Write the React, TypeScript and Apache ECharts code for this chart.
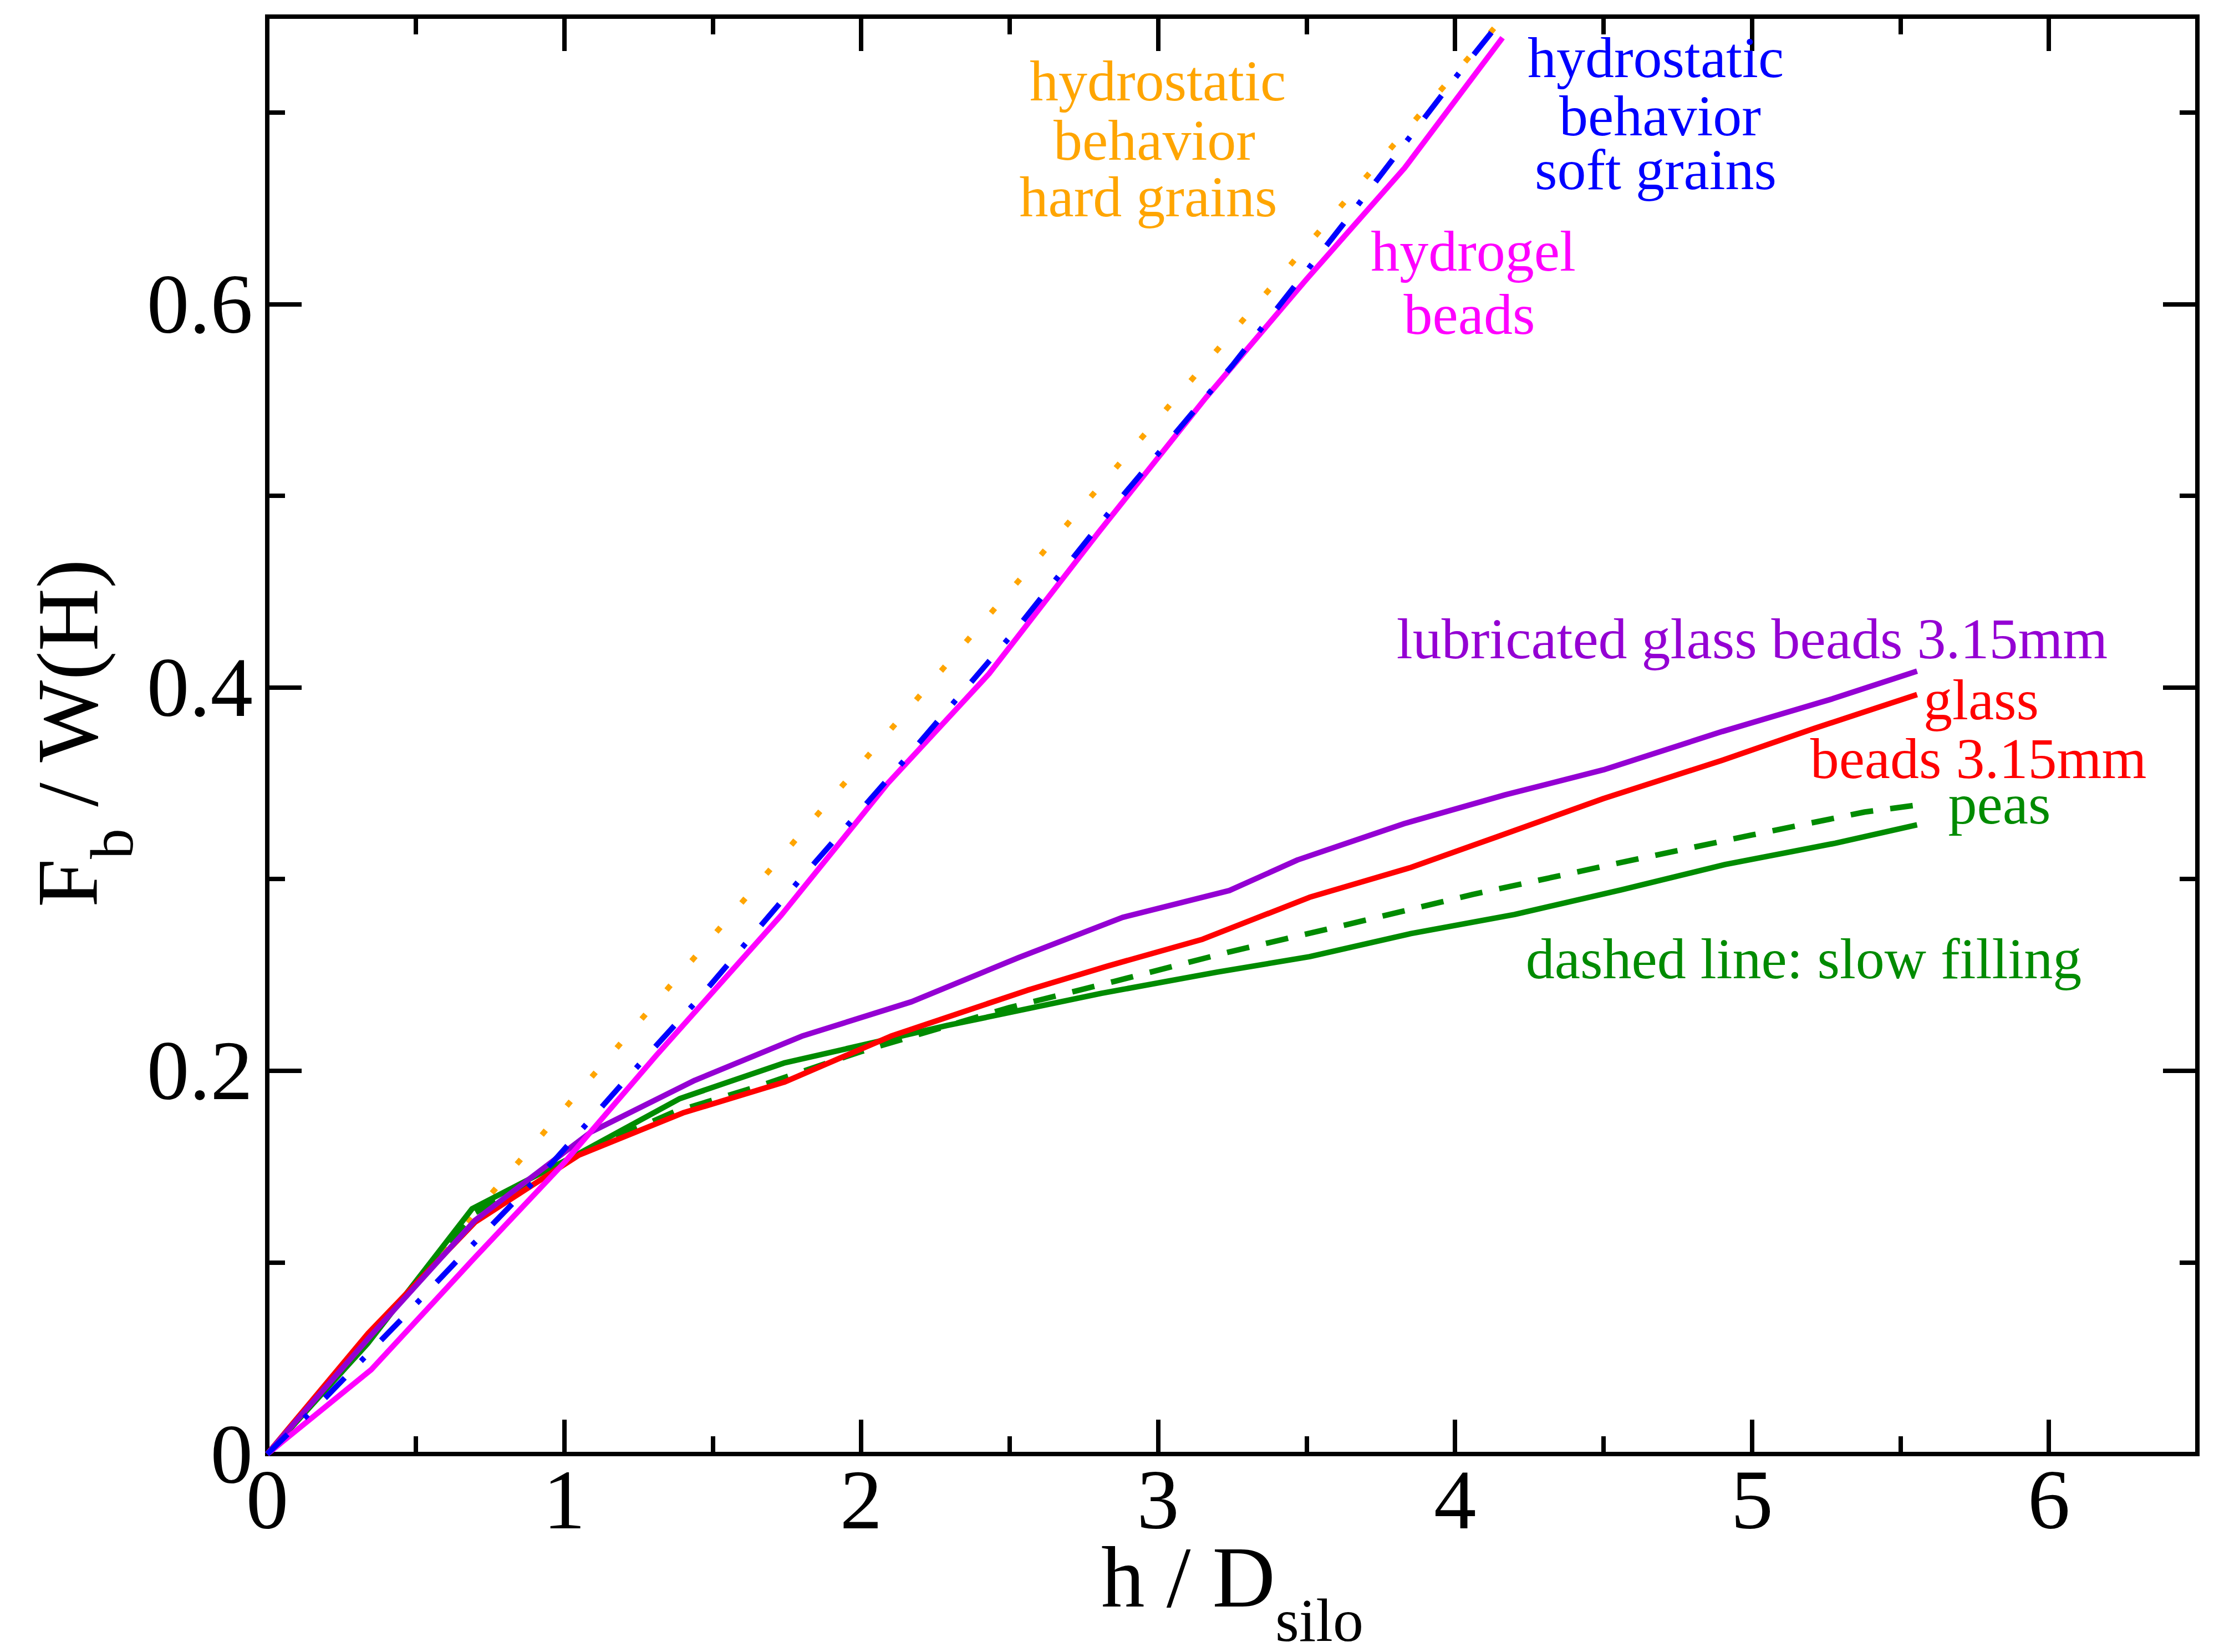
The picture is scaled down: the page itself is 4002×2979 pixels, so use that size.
import React, { useEffect, useRef } from "react";
import * as echarts from "echarts";

// ---------- data ----------
const hardX = [0, 4.165];
const hardY = [0, 0.75];

const softX = [0, 0.2, 0.45, 0.64, 0.96, 1.28, 1.45, 1.79, 2.14, 2.51, 2.87, 3.25, 3.62, 3.99, 4.16];
const softY = [0, 0.03, 0.07, 0.101, 0.152, 0.208, 0.237, 0.299, 0.361, 0.428, 0.498, 0.568, 0.641, 0.716, 0.749];

const gelX = [0, 0.35, 0.69, 1.0, 1.31, 1.73, 2.09, 2.43, 2.8, 3.16, 3.5, 3.83, 4.16];
const gelY = [0, 0.044, 0.101, 0.152, 0.208, 0.281, 0.35, 0.407, 0.481, 0.551, 0.613, 0.671, 0.739];

const lubX = [0, 0.35, 0.7, 1.09, 1.44, 1.8, 2.17, 2.53, 2.88, 3.24, 3.47, 3.83, 4.17, 4.5, 4.9, 5.27, 5.556];
const lubY = [0, 0.062, 0.122, 0.168, 0.195, 0.218, 0.236, 0.259, 0.28, 0.294, 0.31, 0.329, 0.344, 0.357, 0.377, 0.394, 0.4085];

const glassX = [0, 0.34, 0.7, 1.05, 1.4, 1.74, 2.1, 2.56, 2.83, 3.15, 3.51, 3.85, 4.14, 4.5, 4.9, 5.21, 5.556];
const glassY = [0, 0.063, 0.121, 0.156, 0.178, 0.194, 0.218, 0.242, 0.2546, 0.2686, 0.2905, 0.306, 0.322, 0.342, 0.362, 0.3786, 0.3963];

const peasX = [0, 0.34, 0.69, 1.04, 1.39, 1.74, 2.05, 2.29, 2.81, 3.2, 3.51, 3.85, 4.2, 4.56, 4.91, 5.28, 5.556];
const peasY = [0, 0.058, 0.128, 0.156, 0.1855, 0.204, 0.215, 0.2236, 0.2404, 0.2515, 0.2595, 0.2715, 0.2815, 0.2944, 0.3076, 0.3187, 0.3283];

const slowX = [0, 0.34, 0.69, 1.04, 1.37, 1.67, 2.0, 2.5, 2.85, 3.24, 3.63, 4.06, 4.6, 5.0, 5.38, 5.556];
const slowY = [0, 0.059, 0.125, 0.156, 0.1785, 0.1927, 0.21, 0.233, 0.2465, 0.262, 0.276, 0.292, 0.31, 0.323, 0.335, 0.3386];

const xTickLabels = ["0", "1", "2", "3", "4", "5", "6"];
const yTickLabels = ["0", "0.2", "0.4", "0.6"];

// ---------- styling ----------
const FONT = "Liberation Serif";
const ORANGE = "#FFA500";
const BLUE = "#0000FF";
const MAGENTA = "#FF00FF";
const PURPLE = "#9400D3";
const RED = "#FF0000";
const GREEN = "#008B00";

const W = 4002;
const H = 2979;
const G_LEFT = 482;
const G_TOP = 30;
const G_RIGHT = 3963;
const G_BOTTOM = 2622;

const TICK_FS = 153;
const TITLE_FS = 157;
const SUB_FS = 110;
const ANN_FS = 104;
const CENTRAL = 0.3375; // central baseline offset above alphabetic (em)
const LINE_W = 10;

const zip = (xs: number[], ys: number[]) => xs.map((x, i) => [x, ys[i]]);

function txt(text: string, x: number, y: number, color: string, fs: number, align = "center", rotation = 0) {
  return {
    type: "text",
    x,
    y,
    rotation,
    silent: true,
    z: 100,
    style: {
      text,
      fill: color,
      fontSize: fs,
      fontFamily: FONT,
      align,
      textAlign: align,
      verticalAlign: "middle",
      textVerticalAlign: "middle",
    },
  };
}

// annotation: position given by text centre x and alphabetic baseline y
function ann(text: string, cx: number, base: number, color: string) {
  return txt(text, cx, base - CENTRAL * ANN_FS, color, ANN_FS, "center");
}

function lineSeries(name: string, xs: number[], ys: number[], color: string, type: any) {
  return {
    name,
    type: "line",
    data: zip(xs, ys),
    showSymbol: false,
    symbol: "none",
    silent: true,
    xAxisIndex: 0,
    yAxisIndex: 0,
    lineStyle: { color, width: LINE_W, type, cap: "butt", join: "round" },
    emphasis: { disabled: true },
  };
}

export default function App() {
  const ref = useRef<HTMLDivElement>(null);

  useEffect(() => {
    if (!ref.current) return;
    const chart = echarts.init(ref.current, null, { renderer: "svg" });

    const tickStyle = { color: "#000", width: 8 };
    const frameLine = { show: true, onZero: false, lineStyle: { color: "#000", width: 8, cap: "square" } };
    const noLine = { show: false, onZero: false };
    const xBase = {
      type: "value",
      min: 0,
      max: 6.5,
      gridIndex: 0,
      splitLine: { show: false },
      axisLabel: { show: false },
    };
    const yBase = {
      type: "value",
      min: 0,
      max: 0.75,
      gridIndex: 0,
      splitLine: { show: false },
      axisLabel: { show: false },
    };

    const option: any = {
      animation: false,
      backgroundColor: "#ffffff",
      grid: {
        left: G_LEFT,
        top: G_TOP,
        width: G_RIGHT - G_LEFT,
        height: G_BOTTOM - G_TOP,
        show: false,
      },
      xAxis: [
        {
          ...xBase,
          position: "bottom",
          interval: 0.5,
          axisLine: frameLine,
          axisTick: { show: true, inside: true, length: 32, lineStyle: tickStyle },
          axisLabel: {
            show: true,
            margin: 6,
            fontSize: TICK_FS,
            lineHeight: TICK_FS,
            fontFamily: FONT,
            color: "#000",
            formatter: (v: number) => {
              const i = Math.round(v);
              return Math.abs(v - i) < 1e-6 && i < xTickLabels.length ? xTickLabels[i] : "";
            },
          },
        },
        { ...xBase, position: "bottom", interval: 1, axisLine: noLine, axisTick: { show: true, inside: true, length: 62, lineStyle: tickStyle } },
        { ...xBase, position: "top", interval: 0.5, axisLine: frameLine, axisTick: { show: true, inside: true, length: 32, lineStyle: tickStyle } },
        { ...xBase, position: "top", interval: 1, axisLine: noLine, axisTick: { show: true, inside: true, length: 62, lineStyle: tickStyle } },
      ],
      yAxis: [
        { ...yBase, position: "left", interval: 0.1, axisLine: frameLine, axisTick: { show: true, inside: true, length: 32, lineStyle: tickStyle } },
        {
          ...yBase,
          position: "left",
          interval: 0.2,
          axisLine: noLine,
          axisTick: { show: true, inside: true, length: 62, lineStyle: tickStyle },
          axisLabel: {
            show: true,
            margin: 26,
            fontSize: TICK_FS,
            lineHeight: TICK_FS,
            fontFamily: FONT,
            color: "#000",
            formatter: (v: number) => {
              const i = Math.round(v / 0.2);
              return Math.abs(v - i * 0.2) < 1e-6 && i < yTickLabels.length ? yTickLabels[i] : "";
            },
          },
        },
        { ...yBase, position: "right", interval: 0.1, axisLine: frameLine, axisTick: { show: true, inside: true, length: 32, lineStyle: tickStyle } },
        { ...yBase, position: "right", interval: 0.2, axisLine: noLine, axisTick: { show: true, inside: true, length: 62, lineStyle: tickStyle } },
      ],
      series: [
        lineSeries("hydrostatic hard grains", hardX, hardY, ORANGE, [11, 58]),
        lineSeries("slow filling", slowX, slowY, GREEN, [41, 31]),
        lineSeries("peas", peasX, peasY, GREEN, "solid"),
        lineSeries("glass beads 3.15mm", glassX, glassY, RED, "solid"),
        lineSeries("lubricated glass beads 3.15mm", lubX, lubY, PURPLE, "solid"),
        lineSeries("hydrogel beads", gelX, gelY, MAGENTA, "solid"),
        lineSeries("hydrostatic soft grains", softX, softY, BLUE, [51, 42, 9, 43]),
      ],
      graphic: [
        // x axis title
        txt("h / D", 1986, 2897 - CENTRAL * TITLE_FS, "#000", TITLE_FS, "left"),
        txt("silo", 2300, 2959 - CENTRAL * SUB_FS, "#000", SUB_FS, "left"),
        // y axis title (rotated, reads bottom to top)
        txt("F", 175 - CENTRAL * TITLE_FS, 1636, "#000", TITLE_FS, "left", Math.PI / 2),
        txt("b", 239 - CENTRAL * SUB_FS, 1549, "#000", SUB_FS, "left", Math.PI / 2),
        txt(" / W(H)", 175 - CENTRAL * TITLE_FS, 1494, "#000", TITLE_FS, "left", Math.PI / 2),
        // annotations
        ann("hydrostatic", 2088, 181, ORANGE),
        ann("behavior", 2082, 288, ORANGE),
        ann("hard grains", 2071, 390, ORANGE),
        ann("hydrostatic", 2986, 139, BLUE),
        ann("behavior", 2994, 244, BLUE),
        ann("soft grains", 2986, 341, BLUE),
        ann("hydrogel", 2657, 488, MAGENTA),
        ann("beads", 2650, 602, MAGENTA),
        ann("lubricated glass beads 3.15mm", 3160, 1187, PURPLE),
        ann("glass", 3573, 1297, RED),
        ann("beads 3.15mm", 3568, 1403, RED),
        ann("peas", 3606, 1485, GREEN),
        ann("dashed line: slow filling", 3253, 1764, GREEN),
      ],
    };

    chart.setOption(option);
    return () => chart.dispose();
  }, []);

  return (
    <div
      ref={ref}
      style={{ position: "absolute", left: 0, top: 0, width: W, height: H, background: "#fff" }}
    />
  );
}
